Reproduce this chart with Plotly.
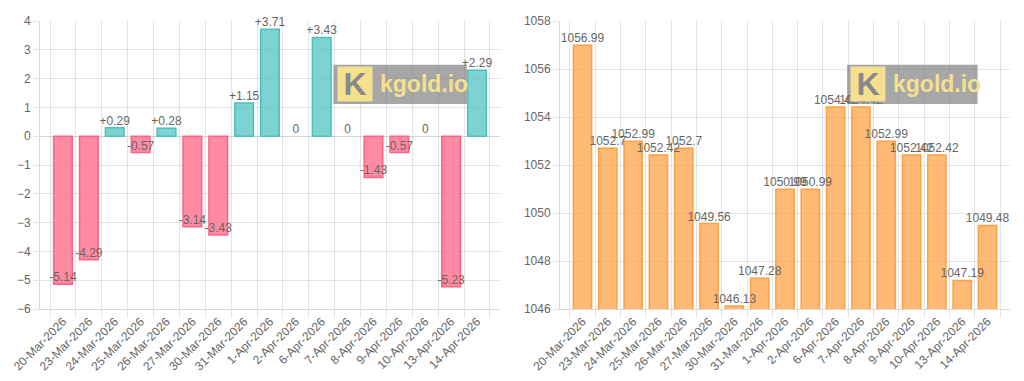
import plotly.graph_objects as go
from plotly.subplots import make_subplots

dates = ["20-Mar-2026", "23-Mar-2026", "24-Mar-2026", "25-Mar-2026", "26-Mar-2026",
         "27-Mar-2026", "30-Mar-2026", "31-Mar-2026", "1-Apr-2026", "2-Apr-2026",
         "6-Apr-2026", "7-Apr-2026", "8-Apr-2026", "9-Apr-2026", "10-Apr-2026",
         "13-Apr-2026", "14-Apr-2026"]
changes = [-5.14, -4.29, 0.29, -0.57, 0.28, -3.14, -3.43, 1.15, 3.71, 0,
           3.43, 0, -1.43, -0.57, 0, -5.23, 2.29]
prices = [1056.99, 1052.7, 1052.99, 1052.42, 1052.7, 1049.56, 1046.13, 1047.28,
          1050.99, 1050.99, 1054.42, 1054.42, 1052.99, 1052.42, 1052.42, 1047.19, 1049.48]

PINK_FILL = "rgba(255,99,132,0.75)"
PINK_LINE = "rgb(255,99,132)"
TEAL_FILL = "rgba(75,192,192,0.72)"
TEAL_LINE = "rgb(75,192,192)"
ORANGE_FILL = "rgba(255,159,64,0.72)"
ORANGE_LINE = "rgb(255,159,64)"
FONT = "Liberation Sans, Arial, sans-serif"
GRAY = "#666666"
GRID = "rgba(0,0,0,0.1)"

fig = make_subplots(rows=1, cols=2, horizontal_spacing=0.0619)

def fmt_change(v):
    if v > 0:
        return "+%g" % v
    return "%g" % v

fig.add_trace(go.Bar(
    x=dates, y=changes,
    marker=dict(color=[TEAL_FILL if v >= 0 else PINK_FILL for v in changes],
                line=dict(color=[TEAL_LINE if v >= 0 else PINK_LINE for v in changes],
                          width=[1.5 if v != 0 else 0 for v in changes])),
    width=0.72, showlegend=False, hoverinfo="x+y"), row=1, col=1)
fig.add_trace(go.Scatter(
    x=dates, y=changes, mode="text", text=[fmt_change(v) for v in changes],
    textposition="top center", textfont=dict(family=FONT, size=12, color=GRAY),
    cliponaxis=False, showlegend=False, hoverinfo="skip"), row=1, col=1)

fig.add_trace(go.Bar(
    x=dates, y=prices,
    marker=dict(color=ORANGE_FILL, line=dict(color=ORANGE_LINE, width=1.5)),
    width=0.72, showlegend=False, hoverinfo="x+y"), row=1, col=2)
fig.add_trace(go.Scatter(
    x=dates, y=prices, mode="text", text=["%g" % v for v in prices],
    textposition="top center", textfont=dict(family=FONT, size=12, color=GRAY),
    cliponaxis=False, showlegend=False, hoverinfo="skip"), row=1, col=2)

xaxis_common = dict(type="category", tickson="boundaries", showgrid=True, gridcolor=GRID,
                    ticks="outside", ticklen=8, tickcolor=GRID, tickangle=-45,
                    showline=True, linecolor="rgba(0,0,0,0.15)", automargin=False,
                    tickfont=dict(family=FONT, size=12, color=GRAY))
fig.update_xaxes(**xaxis_common, domain=[0, 0.4742], row=1, col=1)
fig.update_xaxes(**xaxis_common, domain=[0.5361, 1], row=1, col=2)

yaxis_common = dict(showgrid=True, gridcolor=GRID, ticks="outside", ticklen=6, tickcolor=GRID,
                    showline=True, linecolor="rgba(0,0,0,0.15)", automargin=False,
                    tickfont=dict(family=FONT, size=12, color=GRAY))
fig.update_yaxes(**yaxis_common, range=[-6, 4], dtick=1, zeroline=True,
                 zerolinecolor="rgba(0,0,0,0.16)", zerolinewidth=1, row=1, col=1)
fig.update_yaxes(**yaxis_common, range=[1046, 1058], dtick=2, zeroline=False, row=1, col=2)

# kgold.io watermarks
for xd, yd in [("x domain", "y domain"), ("x2 domain", "y2 domain")]:
    fig.add_shape(type="rect", xref=xd, yref=yd, x0=0.638, x1=0.928, y0=0.712, y1=0.848,
                  fillcolor="rgba(120,120,120,0.65)", line=dict(width=0), layer="above")
    fig.add_annotation(xref=xd, yref=yd, x=0.645, y=0.78, xanchor="left", yanchor="middle",
                       text="<b>K</b>", showarrow=False, bgcolor="#f4e08f", width=32, height=32,
                       font=dict(family=FONT, size=32, color="#8a8a8a"))
    fig.add_annotation(xref=xd, yref=yd, x=0.735, y=0.78, xanchor="left", yanchor="middle",
                       text="<b>kgold.io</b>", showarrow=False,
                       font=dict(family=FONT, size=23, color="#f4e08f"))

# page body has an 8px default margin, so the figure is offset by (8, 8)
fig.update_layout(
    width=1016, height=373,
    margin=dict(l=32, r=14, t=13, b=72, autoexpand=False),
    plot_bgcolor="white", paper_bgcolor="white",
    bargap=0.28, font=dict(family=FONT, color=GRAY),
)

fig.write_html("out.html")
